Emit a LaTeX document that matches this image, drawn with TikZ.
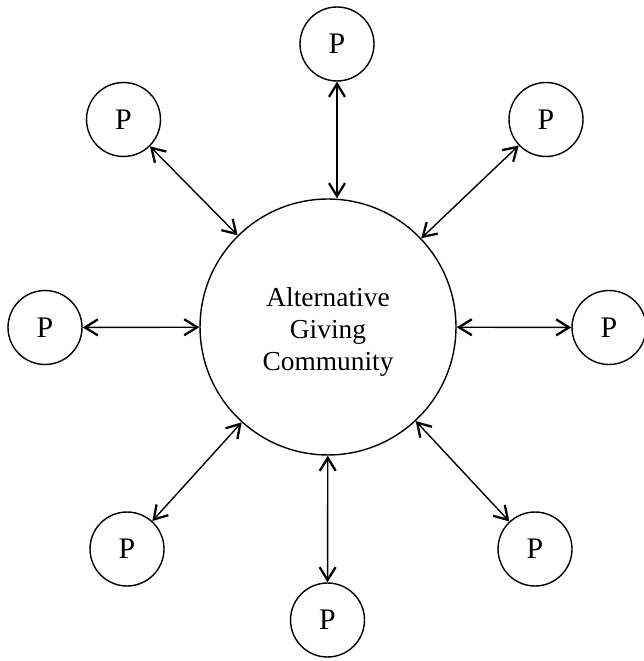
\documentclass[tikz,border=0pt]{standalone}
\usepackage{fontspec}
\setmainfont{Liberation Serif}
\usetikzlibrary{arrows.meta}

\tikzset{
  person/.style={circle, draw, line width=0.8pt, minimum size=1.48cm, inner sep=0pt, font=\fontsize{17}{19}\selectfont},
  hub/.style={circle, draw, line width=0.8pt, minimum size=5.12cm, inner sep=0pt},
  hubtext/.style={align=center, font=\fontsize{15.6}{18.2}\selectfont},
  link/.style={line width=0.8pt, {Straight Barb[length=2.6mm,width=3.2mm,line width=1.3pt]}-{Straight Barb[length=2.6mm,width=3.2mm,line width=1.3pt]}}
}

\begin{document}
\begin{tikzpicture}[x=0.02cm, y=-0.02cm]
  \useasboundingbox (0,0) rectangle (643,661);

  % Community in the middle
  \node[hub, label={[hubtext, yshift=-0.1cm]center:{Alternative\\Giving\\Community}}] (comm) at (328, 327) {};

  % Participants around it
  \node[person] (pN)  at (337, 44)    {P};
  \node[person] (pNW) at (123.5, 119.5) {P};
  \node[person] (pNE) at (546, 119.5) {P};
  \node[person] (pW)  at (45, 327.5)  {P};
  \node[person] (pE)  at (609, 327.5) {P};
  \node[person] (pSW) at (127, 549)   {P};
  \node[person] (pSE) at (535, 549)   {P};
  \node[person] (pS)  at (327.5, 620) {P};

  % Two-way links
  \draw[link] (pN) -- (comm.north -| pN);
  \foreach \p in {pNW, pNE, pW, pE, pSW, pSE, pS} {
    \draw[link] (comm) -- (\p);
  }
\end{tikzpicture}
\end{document}
